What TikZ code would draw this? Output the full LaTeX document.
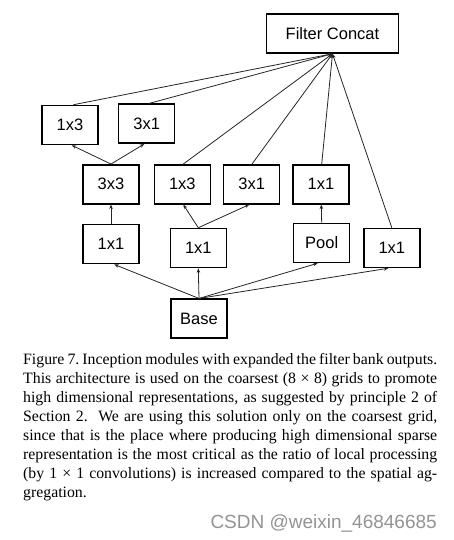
\documentclass[tikz,border=0pt]{standalone}
\usepackage{fontspec}
\setmainfont{Liberation Serif}
\newfontfamily\diagfont{Liberation Sans}
\usetikzlibrary{arrows.meta}
\begin{document}
\begin{tikzpicture}[x=1pt,y=-1pt,
  box/.style={draw=black,line width=1.5pt,minimum width=56pt,minimum height=39pt,inner sep=0pt,
    font=\diagfont\fontsize{16.5}{18}\selectfont},
  conn/.style={draw=black!85,line width=0.8pt},
  arr/.style={conn,-{Stealth[length=4.5pt,width=3.5pt]}}]
\useasboundingbox (0,0) rectangle (454,540);
\fill[white] (0,0) rectangle (454,540);
% nodes
\node[box,minimum width=132pt] (concat) at (332.5,33.5) {Filter Concat};
\node[box] (ta) at (69.9,125) {1x3};
\node[box] (tb) at (146.7,123.7) {3x1};
\node[box] (ma) at (111,184.3) {3x3};
\node[box] (mb) at (182.3,184.3) {1x3};
\node[box] (mc) at (251.7,184.3) {3x1};
\node[box] (md) at (321,184.3) {1x1};
\node[box] (la) at (111,244.2) {1x1};
\node[box] (lb) at (198.3,248) {1x1};
\node[box] (pool) at (321.7,243) {Pool};
\node[box] (ld) at (391.8,248) {1x1};
\node[box] (base) at (199,318.7) {Base};
% connectors to concat
\foreach \n/\s in {ta/3.4,tb/2.3,mb/1,mc/0.3,md/0.7,ld/0}
  \draw[arr] ([xshift=\s pt]\n.north) -- (concat.south);
% inner connectors
\draw[arr] (ma.north) -- ([xshift=1.8pt]ta.south);
\draw[arr] (ma.north) -- ([xshift=-2.4pt]tb.south);
\draw[arr] (la.north) -- (ma.south);
\draw[arr] (lb.north) -- ([xshift=1pt]mb.south);
\draw[arr] (lb.north) -- ([xshift=-2.4pt]mc.south);
\draw[arr] (pool.north) -- ([xshift=0.3pt]md.south);
\draw[arr] (base.north) -- ([xshift=3.3pt]la.south);
\draw[arr] (base.north) -- (lb.south);
\draw[arr] (base.north) -- ([xshift=-4pt]pool.south);
\draw[arr] (base.north) -- ([xshift=-3.5pt]ld.south);
% caption
\node[anchor=north west,inner sep=0pt,align=left,
  font=\fontsize{15.8}{19}\selectfont] (caption) at (23,353.2) {%
\makebox[414pt][s]{Figure 7.\ Inception modules with expanded the filter bank outputs.}\\
\makebox[414pt][s]{This architecture is used on the coarsest (8 × 8) grids to promote}\\
\makebox[414pt][s]{high dimensional representations, as suggested by principle 2 of}\\
\makebox[414pt][s]{Section 2.\ \ We are using this solution only on the coarsest grid,}\\
\makebox[414pt][s]{since that is the place where producing high dimensional sparse}\\
\makebox[414pt][s]{representation is the most critical as the ratio of local processing}\\
\makebox[414pt][s]{(by 1 × 1 convolutions) is increased compared to the spatial ag-}\\
gregation.};
% watermark
\node[anchor=base east,inner sep=0pt,text=black!42,
  font=\diagfont\fontsize{19}{21}\selectfont] (mark) at (437,528.5) {CSDN @weixin\_46846685};
\end{tikzpicture}
\end{document}
